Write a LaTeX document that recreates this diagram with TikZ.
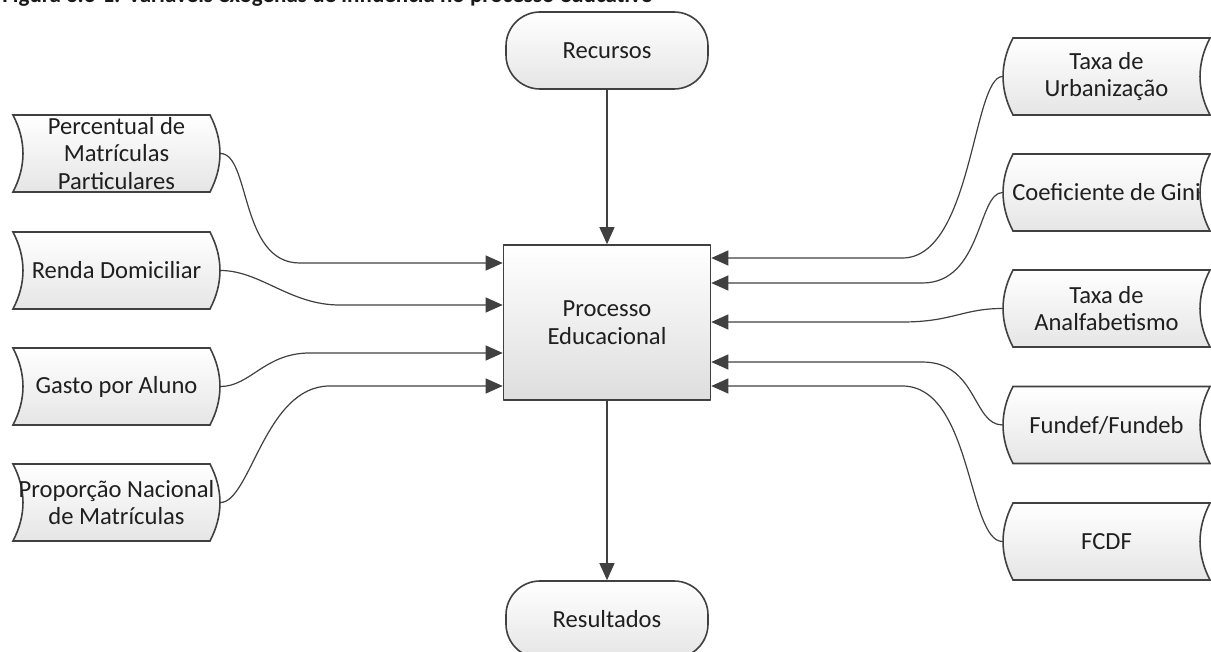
\documentclass[tikz,border=0pt]{standalone}
\usepackage{fontspec}
\setmainfont{Carlito}
\usetikzlibrary{calc,backgrounds,arrows.meta}

\begin{document}
\begin{tikzpicture}[x=0.5pt,y=-0.5pt,line join=round,
    txt/.style={font=\fontsize{12.3}{13.9}\selectfont,align=center,text=black!88},
    store node/.style={txt,inner sep=0pt,minimum width=103.5pt,minimum height=38.5pt},
    ends node/.style={txt,draw=black!75,line width=0.8pt,rounded corners=17pt,inner sep=0pt,
        minimum width=101pt,minimum height=38.5pt,top color=white,bottom color=black!10},
    main node/.style={txt,draw=black!75,line width=0.8pt,inner sep=0pt,
        minimum width=103.5pt,minimum height=77.5pt,top color=white,bottom color=black!13},
    box line/.style={draw=black!75,line width=0.8pt,top color=white,bottom color=black!10},
    link/.style={draw=black!75,line width=0.6pt,-{Triangle[length=8.5pt,width=7.5pt]}}]
  \useasboundingbox (0,0) rectangle (1211,652);

  \node[anchor=base west,inner sep=0pt,font=\bfseries\fontsize{11.5}{14}\selectfont,text=black!90] (ttl) at (2,3)
    {Figura 3.3-1: Variáveis exógenas de influência no processo educativo};

  % centre column
  \node[ends node] (rec) at (607,50.5) {Recursos};
  \node[main node] (proc) at (607,322.5) {Processo\\Educacional};
  \node[ends node] (res) at (607,619.5) {Resultados};

  % left inputs
  \node[store node] (pmp) at (116.5,153.5) {Percentual de\\Matrículas\\Particulares};
  \node[store node] (rdm) at (116.5,270.5) {Renda Domiciliar};
  \node[store node] (gpa) at (116.5,386.5) {Gasto por Aluno};
  \node[store node] (pnm) at (116.5,502.5) {Proporção Nacional\\de Matrículas};

  % right inputs
  \node[store node] (txu) at (1106.5,76.5) {Taxa de\\Urbanização};
  \node[store node] (cgi) at (1106.5,192.5) {Coeficiente de Gini};
  \node[store node] (txa) at (1106.5,308.5) {Taxa de\\Analfabetismo};
  \node[store node] (ffb) at (1106.5,425) {Fundef/Fundeb};
  \node[store node] (fcdf) at (1106.5,541.5) {FCDF};

  \begin{scope}[on background layer]
    \foreach \n in {pmp,rdm,gpa,pnm}
      \path[box line] ($(\n)+(-103.5,-38.5)$) -- ($(\n)+(93.5,-38.5)$)
        .. controls +(13.3,25.7) and +(13.3,-25.7) .. ($(\n)+(93.5,38.5)$)
        -- ($(\n)+(-103.5,38.5)$)
        .. controls +(13.3,-25.7) and +(13.3,25.7) .. ($(\n)+(-103.5,-38.5)$) -- cycle;
    \foreach \n in {txu,cgi,txa,ffb,fcdf}
      \path[box line] ($(\n)+(103.5,-38.5)$) -- ($(\n)+(-93.5,-38.5)$)
        .. controls +(-13.3,25.7) and +(-13.3,-25.7) .. ($(\n)+(-93.5,38.5)$)
        -- ($(\n)+(103.5,38.5)$)
        .. controls +(-13.3,-25.7) and +(-13.3,25.7) .. ($(\n)+(103.5,-38.5)$) -- cycle;
  \end{scope}

  \draw[link] (rec) -- (proc);
  \draw[link] (proc) -- (res);

  \draw[link] (pmp.east) .. controls +(30,0) and +(-60,0) .. ($(proc.west)+(-203,-59.5)$) -- ($(proc.west)+(0,-59.5)$);
  \draw[link] (rdm.east) .. controls +(40,0) and +(-50,0) .. ($(proc.west)+(-163,-17.5)$) -- ($(proc.west)+(0,-17.5)$);
  \draw[link] (gpa.east) .. controls +(30,0) and +(-45,0) .. ($(proc.west)+(-193,30.5)$) -- ($(proc.west)+(0,30.5)$);
  \draw[link] (pnm.east) .. controls +(30,0) and +(-65,0) .. ($(proc.west)+(-173,63.5)$) -- ($(proc.west)+(0,63.5)$);

  \draw[link] (txu.west) .. controls +(-30,0) and +(70,0) .. ($(proc.east)+(191,-64.5)$) -- ($(proc.east)+(0,-64.5)$);
  \draw[link] (cgi.west) .. controls +(-25,0) and +(60,0) .. ($(proc.east)+(211,-39.5)$) -- ($(proc.east)+(0,-39.5)$);
  \draw[link] (txa.west) .. controls +(-40,0) and +(50,0) .. ($(proc.east)+(191,-0.5)$) -- ($(proc.east)+(0,-0.5)$);
  \draw[link] (ffb.west) .. controls +(-30,0) and +(55,0) .. ($(proc.east)+(211,39.5)$) -- ($(proc.east)+(0,39.5)$);
  \draw[link] (fcdf.west) .. controls +(-35,0) and +(70,0) .. ($(proc.east)+(191,63.5)$) -- ($(proc.east)+(0,63.5)$);
\end{tikzpicture}
\end{document}
